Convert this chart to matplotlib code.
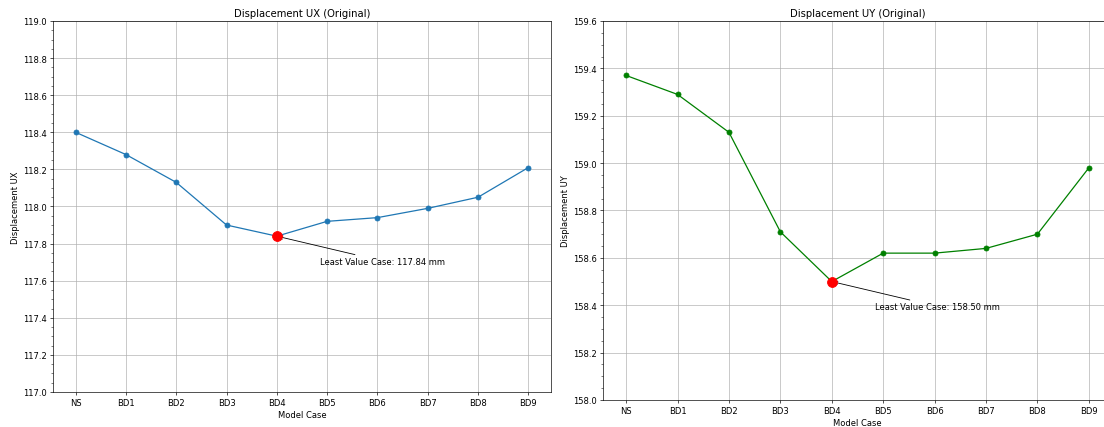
import numpy as np
import matplotlib
matplotlib.use("Agg")
import matplotlib.pyplot as plt
from matplotlib.ticker import AutoMinorLocator, MultipleLocator

cases = ['NS', 'BD1', 'BD2', 'BD3', 'BD4', 'BD5', 'BD6', 'BD7', 'BD8', 'BD9']
ux = [118.40, 118.28, 118.13, 117.90, 117.84, 117.92, 117.94, 117.99, 118.05, 118.21]
uy = [159.37, 159.29, 159.13, 158.71, 158.50, 158.62, 158.62, 158.64, 158.70, 158.98]
ux_lim = (117.0, 119.0)
uy_lim = (158.0, 159.6)

# big figure at low dpi, so default sizes come out small like the reference
fig = plt.figure(figsize=(18.4, 7.1333), dpi=60)
ax1 = fig.add_axes([0.0480, 0.0818, 0.4511, 0.8668])
ax2 = fig.add_axes([0.5462, 0.0631, 0.4610, 0.8855])


def draw_panel(ax, values, color, lim, name):
    ax.plot(cases, values, marker='o', color=color)
    i = int(np.argmin(values))
    ax.scatter([cases[i]], [values[i]], color='red', s=140, zorder=5)
    ax.annotate(f'Least Value Case: {values[i]:.2f} mm',
                xy=(i, values[i]), xytext=(52, -33), textcoords='offset points',
                arrowprops=dict(arrowstyle='->', color='black'))
    ax.set_ylim(*lim)
    ax.yaxis.set_major_locator(MultipleLocator(0.2))
    ax.yaxis.set_minor_locator(AutoMinorLocator())
    ax.grid(True)
    ax.set_title(f'Displacement {name} (Original)')
    ax.set_xlabel('Model Case')
    ax.set_ylabel(f'Displacement {name}')


draw_panel(ax1, ux, 'C0', ux_lim, 'UX')
draw_panel(ax2, uy, 'green', uy_lim, 'UY')

fig.savefig('out.png', dpi=60)
